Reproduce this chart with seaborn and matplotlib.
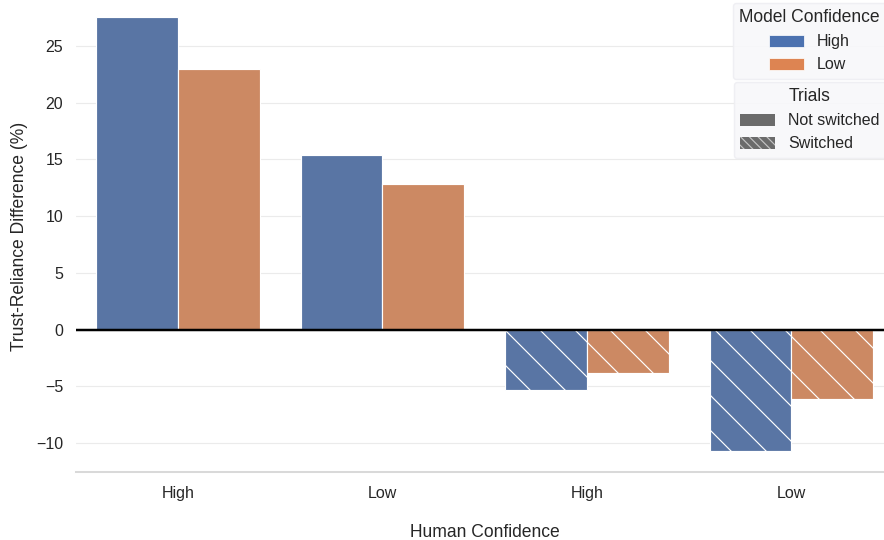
"""
Trust-reliance difference by human / model confidence, split by switched trials
"""

import pandas as pd
import matplotlib
matplotlib.use("Agg")
import matplotlib.pyplot as plt
import seaborn as sns
from matplotlib.patches import Patch

# Data
human_confidence = ["High", "Low", "High", "Low"]
trials = ["Not switched", "Not switched", "Switched", "Switched"]
model_levels = ["High", "Low"]
diff_model_high = [27.6, 15.4, -5.3, -10.7]
diff_model_low = [23.0, 12.8, -3.8, -6.1]
y_ticks = [-10, -5, 0, 5, 10, 15, 20, 25]

DPI = 105
W, H = 884, 540

sns.set_theme(style="whitegrid", context="notebook")
plt.rcParams["font.family"] = ["Liberation Sans", "DejaVu Sans"]
plt.rcParams["hatch.linewidth"] = 0.8
plt.rcParams["text.color"] = "#262626"

groups = [f"{h}\n{t}" for h, t in zip(human_confidence, trials)]
df = pd.DataFrame({
    "group": groups * 2,
    "model": [model_levels[0]] * 4 + [model_levels[1]] * 4,
    "diff": diff_model_high + diff_model_low,
})

fig = plt.figure(figsize=(W / DPI, H / DPI), dpi=DPI)
ax = fig.add_axes([75.7 / W, 68 / H, 818 / W, 472 / H])

palette = sns.color_palette("deep", 2)
sns.barplot(data=df, x="group", y="diff", hue="model", order=groups,
            hue_order=model_levels, palette=palette, edgecolor="white",
            linewidth=0.8, legend=False, ax=ax)

# hatch the switched trials
for container in ax.containers:
    for i, bar in enumerate(container):
        if trials[i] == "Switched":
            bar.set_hatch("\\")

ax.axhline(0, color="black", linewidth=1.7, zorder=3)

ax.set_xlim(-0.5, 3.5)
ax.set_ylim(-12.55, 29.06)
ax.set_yticks(y_ticks)
ax.set_xticks(range(len(groups)))
ax.set_xticklabels(human_confidence)
ax.tick_params(axis="x", labelsize=11, pad=9.5, length=0)
ax.tick_params(axis="y", labelsize=11, pad=8.5, length=0)
ax.grid(axis="y", color="#ebebeb", linewidth=0.8)
ax.grid(axis="x", visible=False)

ax.set_xlabel("Human Confidence", fontsize=12, labelpad=16)
ax.set_ylabel("Trust-Reliance Difference (%)", fontsize=12, labelpad=5.5)

sns.despine(ax=ax, left=True)
ax.spines["bottom"].set_color("#d9d9d9")
ax.spines["bottom"].set_linewidth(1.4)

# legends
legend_style = dict(loc="upper right", fontsize=11, title_fontsize=12,
                    frameon=True, facecolor="#f8f8fa", edgecolor="#eeeef2",
                    framealpha=0.9, borderpad=0.4, borderaxespad=0,
                    labelspacing=0.5, handlelength=2.2, handleheight=0.8)

model_handles = [Patch(facecolor=c, edgecolor="white", linewidth=0.5, label=l)
                 for c, l in zip(palette, model_levels)]
leg1 = fig.legend(handles=model_handles, title="Model Confidence",
                  bbox_to_anchor=(886 / W, 1 - 3 / H), **legend_style)

trial_handles = [
    Patch(facecolor="#6b6b6b", edgecolor="white", linewidth=0, label="Not switched"),
    Patch(facecolor="#6b6b6b", edgecolor="#c4c4c4", linewidth=0,
          hatch="\\\\\\\\", label="Switched"),
]
leg2 = fig.legend(handles=trial_handles, title="Trials",
                  bbox_to_anchor=(886 / W, 1 - 82 / H), **legend_style)

fig.savefig("out.png", dpi=DPI)
